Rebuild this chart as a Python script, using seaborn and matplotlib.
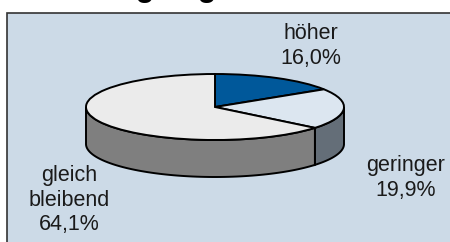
import numpy as np
import matplotlib
matplotlib.use("Agg")
import matplotlib.pyplot as plt
from matplotlib.patches import Polygon, Rectangle
import seaborn as sns

# --- data ---
labels = ["höher", "geringer", "gleich\nbleibend"]
values = [16.0, 19.9, 64.1]
top_colors = ["#00589A", "#DCE6F0", "#EBEBEB"]
side_colors = ["#003E6E", "#646E78", "#7F7F7F"]
title = "Ertragslage"

sns.set_theme(style="white")
plt.rcParams["font.family"] = ["Liberation Sans", "DejaVu Sans"]

W, H = 450, 242
fig = plt.figure(figsize=(W / 100, H / 100), dpi=100)
ax = fig.add_axes([0, 0, 1, 1])

# ellipse geometry in pixels (centre, half axes, thickness)
cx, cy, a, b, depth = 215, 107, 129, 33, 37
d = depth / b


def px(x, y):
    return x / W, 1 - y / H


# background box
x0, y0 = px(7, 13)
ax.add_patch(Rectangle((x0, -0.02), 1.05 - x0, y0 + 0.02, transform=ax.transAxes,
                       facecolor="#CCDAE7", edgecolor="#333333", lw=1.2, zorder=0))

# side walls of the 3d pie (only the front half is visible)
frac = np.cumsum([0] + values) / 100 * 360
for i in range(len(values)):
    t1, t2 = max(frac[i], 90), min(frac[i + 1], 270)
    if t2 <= t1:
        continue
    t = np.radians(np.linspace(t1, t2, 80))
    top = np.column_stack([np.sin(t), np.cos(t)])
    bot = np.column_stack([np.sin(t), np.cos(t) - d])[::-1]
    ax.add_patch(Polygon(np.vstack([top, bot]), closed=True, facecolor=side_colors[i],
                         edgecolor="black", lw=1.4, zorder=1))

# top face
ax.pie(values, colors=sns.color_palette(top_colors), startangle=90, counterclock=False,
       radius=1, wedgeprops=dict(edgecolor="black", linewidth=1.4, zorder=2))
ax.set_aspect("auto")
ax.set_xlim(-cx / a, (W - cx) / a)
ax.set_ylim((cy - H) / b, cy / b)
ax.set_axis_off()

# labels
label_pos = [(311, 46), (406, 178), (69, 200)]
for lab, val, (lx, ly) in zip(labels, values, label_pos):
    txt = f"{lab}\n{val:.1f}%".replace(".", ",")
    ax.text(*px(lx, ly), txt, transform=ax.transAxes, ha="center", va="center",
            fontsize=15.5, color="#1A1A1A", linespacing=1.2)

# title, cut off at the top edge of the picture (as in the reference)
ax.text(*px(64, -4), title, transform=ax.transAxes, ha="left", va="baseline",
        fontsize=22.3, fontweight="bold", color="black", clip_on=False)

fig.savefig("out.png", dpi=100)
